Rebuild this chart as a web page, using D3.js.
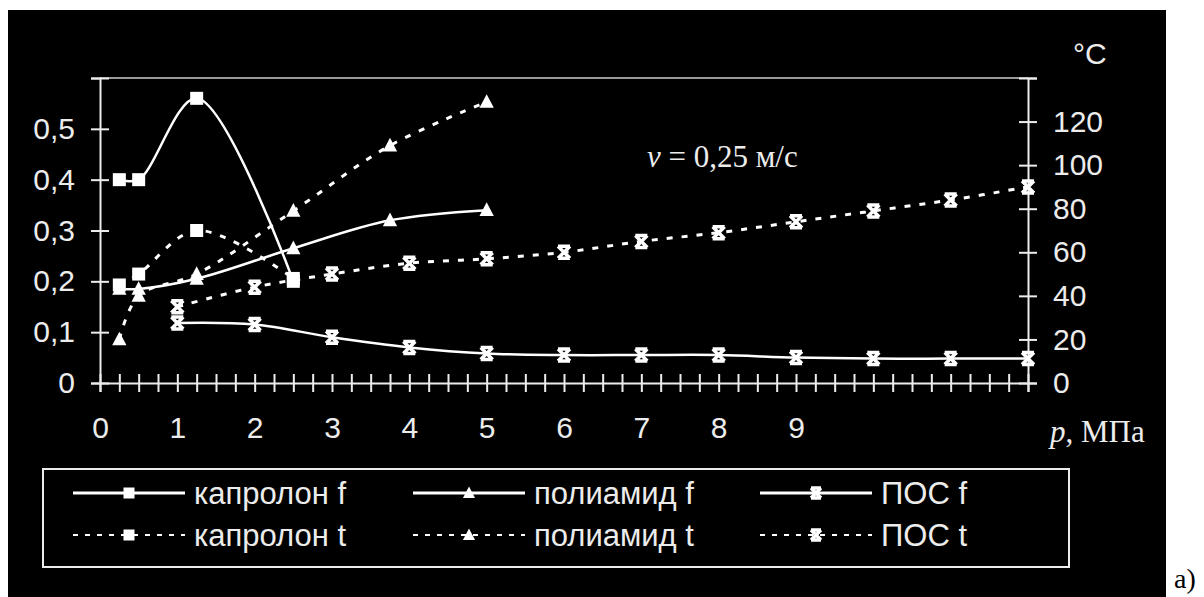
<!DOCTYPE html>
<html>
<head>
<meta charset="utf-8">
<script src="https://cdn.jsdelivr.net/npm/d3@7"></script>
<style>
  html, body { margin: 0; padding: 0; background: #fff; }
  svg { display: block; }
</style>
</head>
<body>
<div id="chart"></div>
<script>
// pressure values (x) for each material
const pKapron = [0.25, 0.5, 1.25, 2.5];
const pPoly = [0.25, 0.5, 1.25, 2.5, 3.75, 5];
const pPos = [1, 2, 3, 4, 5, 6, 7, 8, 9, 10, 11, 12];

// friction coefficient f (left axis)
const kapronF = [0.40, 0.40, 0.56, 0.20];
const polyF = [0.185, 0.185, 0.205, 0.265, 0.32, 0.34];
const posF = [0.118, 0.115, 0.09, 0.07, 0.058, 0.055, 0.055, 0.055, 0.05, 0.048, 0.048, 0.048];

// temperature t, °C (right axis)
const kapronT = [45, 50, 70, 48];
const polyT = [20, 40, 50, 79, 109, 129];
const posT = [35, 44, 50, 55, 57, 60, 65, 69, 74, 79, 84, 90];

// tick labels
const xTickLabels = ['0', '1', '2', '3', '4', '5', '6', '7', '8', '9'];
const leftTickLabels = ['0', '0,1', '0,2', '0,3', '0,4', '0,5'];
const rightTickLabels = ['0', '20', '40', '60', '80', '100', '120'];

const legendNames = ['капролон f', 'полиамид f', 'ПОС f', 'капролон t', 'полиамид t', 'ПОС t'];

const W = 1204, H = 597;
const plot = { left: 100, right: 1028, top: 78, bottom: 383 };
const fg = '#ececec';
const sans = '"Liberation Sans", Arial, sans-serif';
const serif = '"Liberation Serif", "Times New Roman", serif';

const svg = d3.select('#chart').append('svg')
  .attr('width', W)
  .attr('height', H);

// black panel
svg.append('rect')
  .attr('x', 8).attr('y', 10)
  .attr('width', 1158).attr('height', 590)
  .attr('fill', '#000');

const x = d3.scaleLinear().domain([0, 12]).range([plot.left, plot.right]);
const yF = d3.scaleLinear().domain([0, 0.6]).range([plot.bottom, plot.top]);
const yT = d3.scaleLinear().domain([0, 140]).range([plot.bottom, plot.top]);

// top border of the plot area
svg.append('line')
  .attr('x1', plot.left).attr('x2', plot.right)
  .attr('y1', plot.top).attr('y2', plot.top)
  .attr('stroke', '#9a9a9a').attr('stroke-width', 2);

// axes: ticks cross the axis line, so stretch them after d3 builds them
function styleAxis(g) {
  g.select('.domain').attr('stroke', fg).attr('stroke-width', 2);
  g.selectAll('.tick line').attr('stroke', fg).attr('stroke-width', 2);
  g.selectAll('.tick text')
    .attr('fill', fg)
    .attr('font-family', sans)
    .attr('font-size', 30);
}

const xAxis = svg.append('g')
  .attr('transform', `translate(0,${plot.bottom})`)
  .call(d3.axisBottom(x)
    .tickValues(d3.range(0, 12.001, 0.25))
    .tickSizeOuter(0)
    .tickSize(9)
    .tickFormat(d => Number.isInteger(d) && d < xTickLabels.length ? xTickLabels[d] : ''));
styleAxis(xAxis);
xAxis.selectAll('.tick line').attr('y1', -9);
xAxis.selectAll('.tick text').attr('y', 44).attr('dy', '0.35em');

const leftAxis = svg.append('g')
  .attr('transform', `translate(${plot.left},0)`)
  .call(d3.axisLeft(yF)
    .tickValues(d3.range(0, 7).map(i => i / 10))
    .tickSizeOuter(0)
    .tickSize(9)
    .tickFormat((d, i) => leftTickLabels[i] || ''));
styleAxis(leftAxis);
leftAxis.selectAll('.tick line').attr('x1', 9);
leftAxis.selectAll('.tick text').attr('x', -25);

const rightAxis = svg.append('g')
  .attr('transform', `translate(${plot.right},0)`)
  .call(d3.axisRight(yT)
    .tickValues(d3.range(0, 141, 20))
    .tickSizeOuter(0)
    .tickSize(9)
    .tickFormat((d, i) => rightTickLabels[i] || ''));
styleAxis(rightAxis);
rightAxis.selectAll('.tick line').attr('x1', -9);
rightAxis.selectAll('.tick text').attr('x', 25);

// axis titles
svg.append('text')
  .attr('x', 1073).attr('y', 64)
  .attr('fill', fg).attr('font-family', sans).attr('font-size', 30)
  .text('°C');

const pLabel = svg.append('text')
  .attr('x', 1050).attr('y', 442)
  .attr('fill', fg).attr('font-family', serif).attr('font-size', 31);
pLabel.append('tspan').attr('font-style', 'italic').text('p');
pLabel.append('tspan').text(', МПа');

const vLabel = svg.append('text')
  .attr('x', 647).attr('y', 167)
  .attr('fill', fg).attr('font-family', serif).attr('font-size', 31);
vLabel.append('tspan').attr('font-style', 'italic').text('v');
vLabel.append('tspan').text(' = 0,25 м/с');

svg.append('text')
  .attr('x', 1174).attr('y', 588)
  .attr('fill', '#000').attr('font-family', serif).attr('font-size', 28)
  .text('а)');

// markers
function marker(g, type, s) {
  if (type === 'square') {
    g.append('rect')
      .attr('x', -s / 2).attr('y', -s / 2)
      .attr('width', s).attr('height', s)
      .attr('fill', '#fff');
  } else if (type === 'triangle') {
    g.append('path')
      .attr('d', `M0,${-s * 0.6}L${s * 0.55},${s * 0.45}L${-s * 0.55},${s * 0.45}Z`)
      .attr('fill', '#fff');
  } else {
    const h = s / 2;
    g.append('path')
      .attr('d', `M${-h},${-h}L${h},${h}M${h},${-h}L${-h},${h}M${-h},${-h}L${h},${-h}M${-h},${h}L${h},${h}`)
      .attr('stroke', '#fff').attr('stroke-width', 3.5).attr('fill', 'none');
  }
}

const series = [
  { xs: pKapron, ys: kapronF, y: yF, mark: 'square', dashed: false, size: 13 },
  { xs: pPoly, ys: polyF, y: yF, mark: 'triangle', dashed: false, size: 13 },
  { xs: pPos, ys: posF, y: yF, mark: 'star', dashed: false, size: 12 },
  { xs: pKapron, ys: kapronT, y: yT, mark: 'square', dashed: true, size: 13 },
  { xs: pPoly, ys: polyT, y: yT, mark: 'triangle', dashed: true, size: 13 },
  { xs: pPos, ys: posT, y: yT, mark: 'star', dashed: true, size: 12 }
];

series.forEach(s => {
  const pts = s.xs.map((p, i) => ({ p: p, v: s.ys[i] }));
  const line = d3.line()
    .x(d => x(d.p))
    .y(d => s.y(d.v))
    .curve(d3.curveCatmullRom.alpha(0.5));

  svg.append('path')
    .datum(pts)
    .attr('fill', 'none')
    .attr('stroke', '#fff')
    .attr('stroke-width', s.dashed ? 3 : 2.5)
    .attr('stroke-dasharray', s.dashed ? '6,9' : null)
    .attr('d', line);

  pts.forEach(d => {
    const g = svg.append('g').attr('transform', `translate(${x(d.p)},${s.y(d.v)})`);
    marker(g, s.mark, s.size);
  });
});

// legend
svg.append('rect')
  .attr('x', 43).attr('y', 469)
  .attr('width', 1026).attr('height', 98)
  .attr('fill', 'none')
  .attr('stroke', fg).attr('stroke-width', 2);

const colX = [73, 413, 760];
const rowY = [493, 535];

series.forEach((s, i) => {
  const cx = colX[i % 3];
  const cy = rowY[Math.floor(i / 3)];
  const g = svg.append('g');
  g.append('line')
    .attr('x1', cx).attr('x2', cx + 112)
    .attr('y1', cy).attr('y2', cy)
    .attr('stroke', '#fff')
    .attr('stroke-width', s.dashed ? 2 : 3)
    .attr('stroke-dasharray', s.dashed ? '5,7' : null);
  const m = g.append('g').attr('transform', `translate(${cx + 56},${cy})`);
  marker(m, s.mark, s.size - 2);
  g.append('text')
    .attr('x', cx + 121).attr('y', cy)
    .attr('dy', '0.35em')
    .attr('fill', fg)
    .attr('font-family', sans)
    .attr('font-size', 31)
    .text(legendNames[i]);
});
</script>
</body>
</html>
